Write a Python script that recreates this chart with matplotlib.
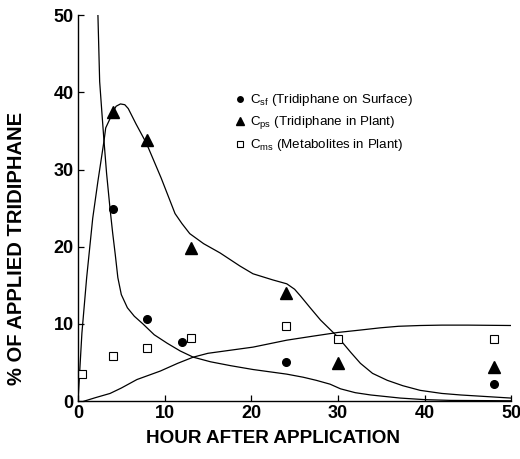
import numpy as np
import matplotlib
matplotlib.use("Agg")
import matplotlib.pyplot as plt

plt.rcParams['font.family'] = ['Liberation Sans', 'DejaVu Sans']
plt.rcParams['mathtext.default'] = 'regular'

# measured points
hours_sf = [4, 8, 12, 24, 48]
csf = [24.9, 10.6, 7.7, 5.1, 2.2]

hours_ps = [4, 8, 13, 24, 30, 48]
cps = [37.5, 33.8, 19.8, 14.0, 5.0, 4.4]

hours_ms = [0.5, 4, 8, 13, 24, 30, 48]
cms = [3.5, 5.8, 6.9, 8.2, 9.8, 8.0, 8.0]

# fitted curves
fit_sf_x = [2.3, 2.5, 2.75, 3.0, 3.3, 3.7, 4.0, 4.3, 4.6, 5.0, 5.7, 6.5, 7.5, 8.8,
            10.3, 11.8, 13.3, 15.3, 17.6, 20.2, 24.1, 26.0, 27.5, 29.1, 30.3,
            32.0, 33.8, 37.2, 40.0, 43.0, 50.0]
fit_sf_y = [50.0, 41.4, 37.5, 33.7, 29.5, 24.9, 21.8, 19.0, 16.0, 13.8, 12.1, 11.0, 10.0, 8.6,
            7.5, 6.5, 5.7, 5.1, 4.6, 4.1, 3.5, 3.1, 2.7, 2.2, 1.6,
            1.1, 0.8, 0.4, 0.2, 0.1, 0.05]

fit_ps_x = [0.0, 0.45, 1.0, 1.7, 2.3, 3.0, 3.2, 3.7, 4.0, 4.4, 4.9, 5.4, 5.8, 6.7, 7.9,
            9.6, 11.2, 12.0, 12.9, 14.5, 16.4, 18.7, 20.2, 22.5, 24.1, 25.0, 25.7,
            26.8, 28.0, 30.0, 31.5, 32.6, 34.0, 35.7, 37.5, 39.5, 42.0, 44.2, 50.0]
fit_ps_y = [0.0, 8.8, 16.0, 23.7, 28.5, 33.7, 35.4, 36.6, 37.4, 38.2, 38.5, 38.4, 37.9, 35.9, 33.4,
            28.9, 24.3, 23.0, 21.7, 20.4, 19.2, 17.5, 16.5, 15.7, 15.2, 14.5, 13.6,
            12.1, 10.5, 8.3, 6.3, 4.9, 3.6, 2.7, 2.0, 1.4, 1.0, 0.8, 0.4]

fit_ms_x = [0.7, 2.0, 3.7, 5.0, 6.8, 9.5, 11.5, 13.3, 15.0, 17.6, 20.2, 24.1, 27.0,
            30.0, 32.5, 34.9, 37.0, 39.5, 42.0, 45.0, 50.0]
fit_ms_y = [0.0, 0.45, 1.0, 1.7, 2.8, 3.9, 4.9, 5.7, 6.2, 6.6, 7.0, 7.9, 8.4,
            8.9, 9.2, 9.5, 9.7, 9.8, 9.85, 9.85, 9.8]

fig = plt.figure(figsize=(5.2, 4.59), dpi=100)
ax = fig.add_axes([0.15, 0.126, 0.833, 0.841])

ax.plot(fit_sf_x, fit_sf_y, color='black', lw=0.9)
ax.plot(fit_ps_x, fit_ps_y, color='black', lw=0.9)
ax.plot(fit_ms_x, fit_ms_y, color='black', lw=0.9)

h1, = ax.plot(hours_sf, csf, 'o', color='black', ms=5.5, ls='none', clip_on=False)
h2, = ax.plot(hours_ps, cps, '^', color='black', ms=8.5, ls='none', clip_on=False)
h3, = ax.plot(hours_ms, cms, 's', mfc='white', mec='black', mew=0.8, ms=6,
              ls='none', clip_on=False)

ax.set_xlim(0, 50)
ax.set_ylim(0, 50)
ax.set_xticks([0, 10, 20, 30, 40, 50])
ax.set_yticks([0, 10, 20, 30, 40, 50])
ax.tick_params(direction='in', length=4, width=0.9, labelsize=13, pad=3)
for lab in ax.get_xticklabels() + ax.get_yticklabels():
    lab.set_fontweight('bold')

for s in ['top', 'right']:
    ax.spines[s].set_visible(False)
for s in ['left', 'bottom']:
    ax.spines[s].set_linewidth(1.0)

ax.set_xlabel('HOUR AFTER APPLICATION', fontsize=13.6, fontweight='bold')
ax.set_ylabel('% OF APPLIED TRIDIPHANE', fontsize=14.5, fontweight='bold')
ax.xaxis.set_label_coords(0.45, -0.075)
ax.yaxis.set_label_coords(-0.12, 0.395)

labels = [r'C$_{sf}$ (Tridiphane on Surface)',
          r'C$_{ps}$ (Tridiphane in Plant)',
          r'C$_{ms}$ (Metabolites in Plant)']
ax.legend([h1, h2, h3], labels, loc='upper left', bbox_to_anchor=(0.36, 0.80),
          frameon=False, fontsize=9.6, handlelength=0.9, handletextpad=0.3,
          labelspacing=0.45, borderpad=0, borderaxespad=0, markerscale=0.72)

fig.savefig('out.png', dpi=100)
